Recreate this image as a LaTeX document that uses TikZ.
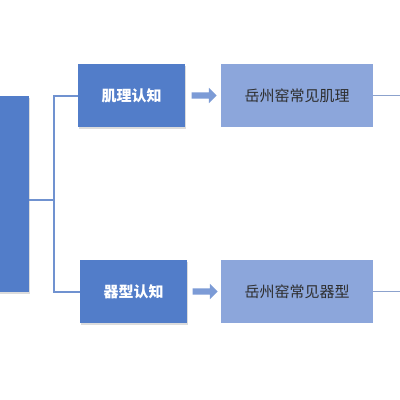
\documentclass[tikz,border=0pt]{standalone}
\usepackage{fontspec}
\newfontfamily\cjk{Noto Sans CJK SC}
\usetikzlibrary{shadows,shapes.arrows}
\definecolor{darkblue}{RGB}{82,125,201}
\definecolor{lightblue}{RGB}{140,166,219}
\definecolor{linecol}{RGB}{112,146,208}
\definecolor{rlinecol}{RGB}{140,162,205}
\definecolor{arrowcol}{RGB}{124,155,214}
\definecolor{txtgray}{RGB}{45,45,45}
\tikzset{
  darkbox/.style={rectangle, fill=darkblue, inner sep=0pt, anchor=north west,
    drop shadow={shadow xshift=1.2pt, shadow yshift=-1.5pt, fill=black!30, opacity=0.45},
    text=white, font=\cjk\bfseries\fontsize{15}{17}\selectfont},
  lightbox/.style={rectangle, fill=lightblue, inner sep=0pt, anchor=north west,
    text=txtgray, font=\cjk\fontsize{15}{17}\selectfont},
  conn/.style={draw=linecol, line width=1.6pt},
  rconn/.style={draw=rlinecol, line width=1.2pt},
  blockarrow/.style={single arrow, fill=arrowcol, minimum height=25pt, minimum width=15pt,
    inner xsep=0pt, inner ysep=3pt, single arrow head extend=4.5pt, single arrow head indent=0pt}
}
\begin{document}
\begin{tikzpicture}[x=1pt,y=-1pt]
\useasboundingbox (0,0) rectangle (400,400);
\fill[white] (0,0) rectangle (400,400);
\node[darkbox, minimum width=30pt, minimum height=196pt] (main) at (-1,96) {};
\node[darkbox, minimum width=107pt, minimum height=63pt] (a1) at (78,64) {肌理认知};
\node[darkbox, minimum width=107pt, minimum height=63pt] (a2) at (80,260) {器型认知};
\node[lightbox, minimum width=152pt, minimum height=63pt] (b1) at (221,64) {岳州窑常见肌理};
\node[lightbox, minimum width=152pt, minimum height=63pt] (b2) at (221,260) {岳州窑常见器型};
\node[blockarrow] (ar1) at (202.5,95.5) {};
\node[blockarrow] (ar2) at (203.5,291.5) {};
\coordinate (j) at (54,200);
\coordinate (edge) at (400,200);
\draw[conn] (main.east |- j) -- (j);
\draw[conn] (a1.west) -- (a1.west -| j) -- (a2.west -| j) -- (a2.west);
\draw[rconn] (b1.east) -- (b1.east -| edge);
\draw[rconn] (b2.east) -- (b2.east -| edge);
\end{tikzpicture}
\end{document}
